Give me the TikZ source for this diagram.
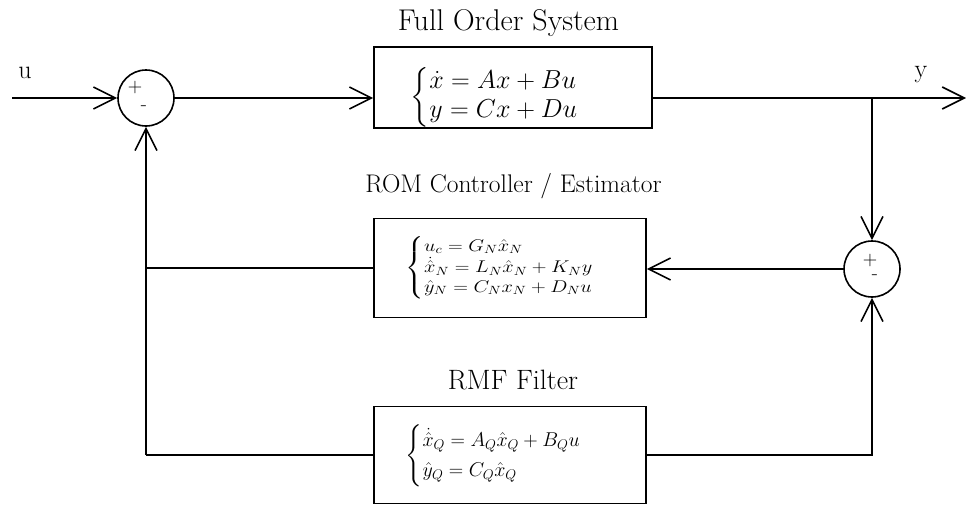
\RequirePackage{fix-cm}
\documentclass[tikz,border=0pt]{standalone}
\usepackage{amsmath}
\usepackage{graphicx}
\usepackage{fontspec}
\usetikzlibrary{arrows.meta}
\begin{document}
\begin{tikzpicture}[x=1pt,y=-1pt,
  line width=1.6pt,
  arr/.style={-{Straight Barb[length=22pt,width=22pt,line width=1.6pt]}},
  sumnode/.style={draw,circle,minimum size=56pt,inner sep=0pt},
  blk/.style={draw,rectangle,inner sep=0pt},
  ttl/.style={anchor=base,inner sep=0pt},
  sgn/.style={font=\fontsize{20}{22}\selectfont,inner sep=0pt},
  lbl/.style={font=\fontsize{26}{30}\selectfont,inner sep=0pt}]
\useasboundingbox (0,0) rectangle (966,506);
% blocks
\node[blk,minimum width=278pt,minimum height=81pt] (fos) at (513,87.5) {};
\node[blk,minimum width=272pt,minimum height=99pt] (rom) at (510,268) {};
\node[blk,minimum width=272pt,minimum height=97pt] (rmf) at (510,455) {};
% equations
\node[anchor=west,inner sep=0pt,font=\fontsize{26}{29}\selectfont] (eqf) at (410,97)
  {$\left\{\begin{array}{@{}l@{}}\dot{x}=Ax+Bu\\ y=Cx+Du\end{array}\right.$};
\node[anchor=west,inner sep=0pt,font=\fontsize{17}{19.5}\selectfont] (eqr) at (405,268)
  {\scalebox{1.2}[1]{$\left\{\begin{array}{@{}l@{}}u_c=G_N\hat{x}_N\\ \dot{\hat{x}}_N=L_N\hat{x}_N+K_Ny\\ \hat{y}_N=C_Nx_N+D_Nu\end{array}\right.$}};
\node[anchor=west,inner sep=0pt,font=\fontsize{20}{24}\selectfont] (eqm) at (405,456)
  {$\left\{\begin{array}{@{}l@{}}\dot{\hat{x}}_Q=A_Q\hat{x}_Q+B_Qu\\[6pt] \hat{y}_Q=C_Q\hat{x}_Q\end{array}\right.$};
% titles
\node[ttl,font=\fontsize{30}{34}\selectfont] (tf) at (508.5,30) {Full Order System};
\node[ttl,font=\fontsize{25.5}{30}\selectfont] (tr) at (513.5,192) {ROM Controller / Estimator};
\node[ttl,font=\fontsize{28}{32}\selectfont] (tm) at (513,389) {RMF Filter};
% summing junctions
\node[sumnode] (s1) at (146,98) {};
\node[sgn] (s1p) at (135,88) {+};
\node[sgn] (s1m) at (144,108) {-};
\node[sumnode] (s2) at (872,269) {};
\node[sgn] (s2p) at (870,261) {+};
\node[sgn] (s2m) at (875,277) {-};
% io
\coordinate (uin) at (12,98);
\coordinate (yout) at (966,98);
\coordinate (br) at (872,98);
\node[lbl] (ul) at (25,73) {u};
\node[lbl] (yl) at (921,75) {y};
% connectors
\draw[arr] (uin) -- (s1.west);
\draw[arr] (s1.east) -- (s1 -| fos.west);
\draw[arr] (fos.east |- yout) -- (yout);
\draw[arr] (br) -- (s2.north);
\draw[arr] (s2.west) -- (s2 -| rom.east);
\draw (s1 |- rom.west) -- (rom.west);
\draw (rmf.west) -- (s1 |- rmf.west);
\draw[arr] (s1 |- rmf.west) -- (s1.south);
\draw[arr] (rmf.east) -| (s2.south);
\end{tikzpicture}
\end{document}
